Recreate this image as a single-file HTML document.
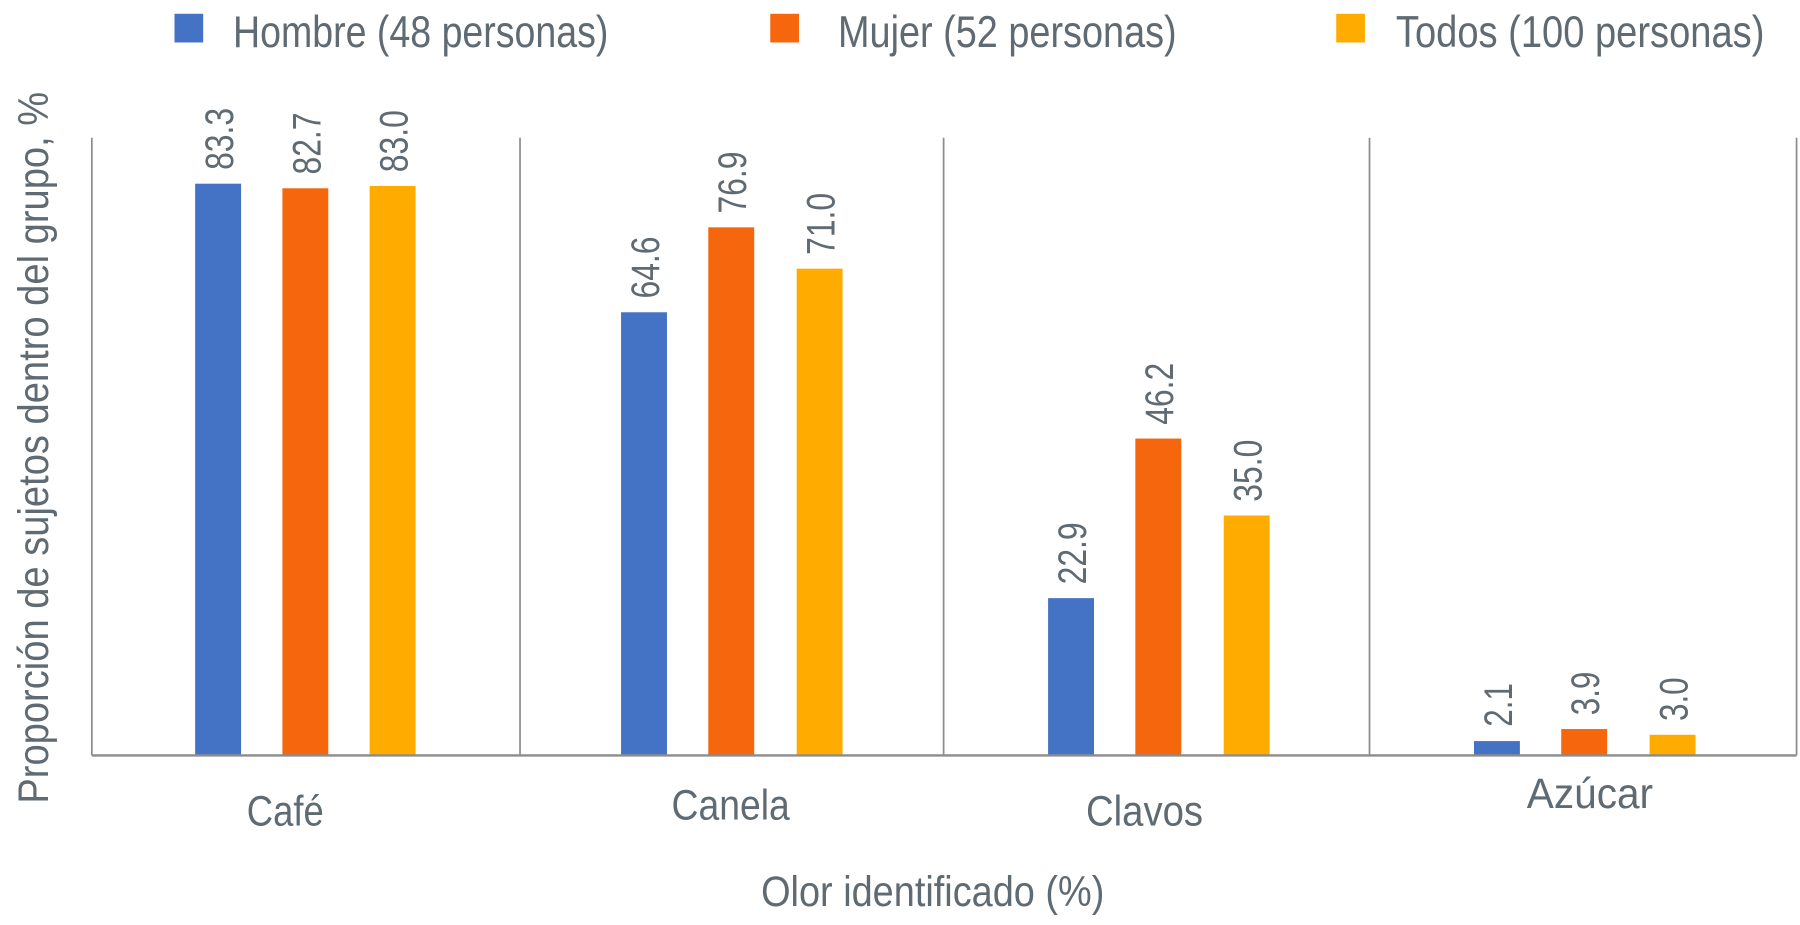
<!DOCTYPE html>
<html><head><meta charset="utf-8"><style>
html,body{margin:0;padding:0;background:#fff;}
svg{display:block;}
text{font-family:"Liberation Sans",sans-serif;fill:#5f6a72;}
</style></head><body>
<svg width="1800" height="925" viewBox="0 0 1568 805.7" preserveAspectRatio="none" xmlns="http://www.w3.org/2000/svg">
<!-- legend -->
<rect x="152" y="12" width="25" height="25" fill="#4472c4"/>
<text x="203" y="41" font-size="39" textLength="327" lengthAdjust="spacingAndGlyphs">Hombre (48 personas)</text>
<rect x="671" y="12" width="25" height="25" fill="#f6660c"/>
<text x="730" y="41" font-size="39" textLength="295" lengthAdjust="spacingAndGlyphs">Mujer (52 personas)</text>
<rect x="1164" y="12" width="25" height="25" fill="#ffab00"/>
<text x="1216" y="41" font-size="39" textLength="321" lengthAdjust="spacingAndGlyphs">Todos (100 personas)</text>
<!-- grid -->
<g stroke="#8c8c8c" stroke-width="1.5">
<line x1="80" y1="120" x2="80" y2="658"/>
<line x1="453" y1="120" x2="453" y2="658"/>
<line x1="822" y1="120" x2="822" y2="658"/>
<line x1="1193" y1="120" x2="1193" y2="658"/>
<line x1="1565" y1="120" x2="1565" y2="658"/>
</g>
<g>
<rect x="170" y="160" width="40" height="498" fill="#4472c4"/>
<rect x="246" y="164" width="40" height="494" fill="#f6660c"/>
<rect x="322" y="162" width="40" height="496" fill="#ffab00"/>
<rect x="541" y="272" width="40" height="386" fill="#4472c4"/>
<rect x="617" y="198" width="40" height="460" fill="#f6660c"/>
<rect x="694" y="234" width="40" height="424" fill="#ffab00"/>
<rect x="913" y="521" width="40" height="137" fill="#4472c4"/>
<rect x="989" y="382" width="40" height="276" fill="#f6660c"/>
<rect x="1066" y="449" width="40" height="209" fill="#ffab00"/>
<rect x="1284" y="645.5" width="40" height="12.5" fill="#4472c4"/>
<rect x="1360" y="635" width="40" height="23" fill="#f6660c"/>
<rect x="1437" y="640" width="40" height="18" fill="#ffab00"/>
</g>
<line x1="80" y1="658" x2="1565" y2="658" stroke="#8c8c8c" stroke-width="2"/>
<!-- data labels -->
<g font-size="35">
<text transform="translate(203,148) rotate(-90)" textLength="54" lengthAdjust="spacingAndGlyphs">83.3</text>
<text transform="translate(279,152) rotate(-90)" textLength="54" lengthAdjust="spacingAndGlyphs">82.7</text>
<text transform="translate(355,150) rotate(-90)" textLength="54" lengthAdjust="spacingAndGlyphs">83.0</text>
<text transform="translate(574,260) rotate(-90)" textLength="54" lengthAdjust="spacingAndGlyphs">64.6</text>
<text transform="translate(650,186) rotate(-90)" textLength="54" lengthAdjust="spacingAndGlyphs">76.9</text>
<text transform="translate(727,222) rotate(-90)" textLength="54" lengthAdjust="spacingAndGlyphs">71.0</text>
<text transform="translate(946,509) rotate(-90)" textLength="54" lengthAdjust="spacingAndGlyphs">22.9</text>
<text transform="translate(1022,370) rotate(-90)" textLength="54" lengthAdjust="spacingAndGlyphs">46.2</text>
<text transform="translate(1099,437) rotate(-90)" textLength="54" lengthAdjust="spacingAndGlyphs">35.0</text>
<text transform="translate(1317,633) rotate(-90)" textLength="38" lengthAdjust="spacingAndGlyphs">2.1</text>
<text transform="translate(1393,623) rotate(-90)" textLength="38" lengthAdjust="spacingAndGlyphs">3.9</text>
<text transform="translate(1470,628) rotate(-90)" textLength="38" lengthAdjust="spacingAndGlyphs">3.0</text>
</g>
<!-- category labels -->
<g font-size="37">
<text x="215" y="719" textLength="67" lengthAdjust="spacingAndGlyphs">Café</text>
<text x="585" y="714" textLength="103" lengthAdjust="spacingAndGlyphs">Canela</text>
<text x="946" y="719" textLength="102" lengthAdjust="spacingAndGlyphs">Clavos</text>
<text x="1330" y="704" textLength="110" lengthAdjust="spacingAndGlyphs">Azúcar</text>
</g>
<text x="663" y="789" font-size="37" textLength="299" lengthAdjust="spacingAndGlyphs">Olor identificado (%)</text>
<text transform="translate(42,700) rotate(-90)" font-size="37" textLength="620" lengthAdjust="spacingAndGlyphs">Proporción de sujetos dentro del grupo, %</text>
</svg>
</body></html>
